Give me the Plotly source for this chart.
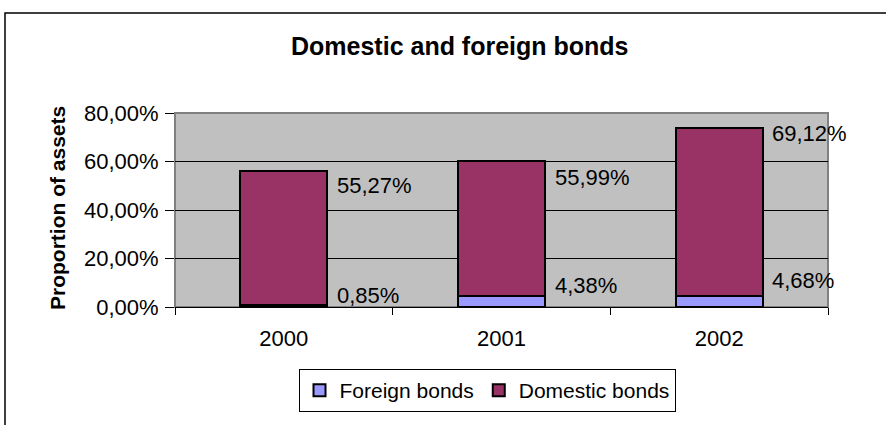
import plotly.graph_objects as go

# Bond holdings as a share of total assets
years = ["2000", "2001", "2002"]
foreign_bonds = [0.0085, 0.0438, 0.0468]
domestic_bonds = [0.5527, 0.5599, 0.6912]

# Vertical placement of the value labels (axis units)
foreign_label_y = [0.047, 0.089, 0.111]
domestic_label_y = [0.499, 0.532, 0.715]

y_ticks = [0, 0.2, 0.4, 0.6, 0.8]

FONT = "Liberation Sans, Arial, sans-serif"


def pct(v):
    return f"{v * 100:.2f}%".replace(".", ",")


fig = go.Figure()
fig.add_trace(go.Bar(
    name="Foreign bonds", x=years, y=foreign_bonds, width=0.4,
    marker=dict(color="#9999FF", line=dict(color="black", width=2)),
))
fig.add_trace(go.Bar(
    name="Domestic bonds", x=years, y=domestic_bonds, width=0.4,
    marker=dict(color="#993366", line=dict(color="black", width=2)),
))

annotations = []
for i, (v, ly) in enumerate(zip(foreign_bonds, foreign_label_y)):
    annotations.append(dict(x=i + 0.235, y=ly, xref="x", yref="y", text=pct(v),
                            showarrow=False, xanchor="left", yanchor="middle",
                            font=dict(size=22, color="black", family=FONT)))
for i, (v, ly) in enumerate(zip(domestic_bonds, domestic_label_y)):
    annotations.append(dict(x=i + 0.235, y=ly, xref="x", yref="y", text=pct(v),
                            showarrow=False, xanchor="left", yanchor="middle",
                            font=dict(size=22, color="black", family=FONT)))

# Chart title and y-axis title
annotations.append(dict(x=(460 - 175) / 653, y=(307 - 46) / 194, xref="paper", yref="paper",
                        text="<b>Domestic and foreign bonds</b>", showarrow=False,
                        xanchor="center", yanchor="middle",
                        font=dict(size=25, color="black", family=FONT)))
annotations.append(dict(x=(57 - 175) / 653, y=(307 - 208) / 194, xref="paper", yref="paper",
                        text="<b>Proportion of assets</b>", showarrow=False, textangle=-90,
                        xanchor="center", yanchor="middle",
                        font=dict(size=21, color="black", family=FONT)))

shapes = [
    # outer chart frame
    dict(type="rect", xref="paper", yref="paper",
         x0=(5 - 175) / 653, x1=(900 - 175) / 653,
         y0=(307 - 440) / 194, y1=(307 - 13) / 194,
         line=dict(color="black", width=1.5), fillcolor="rgba(0,0,0,0)", layer="below"),
    # plot area frame
    dict(type="rect", xref="paper", yref="paper", x0=0, x1=1, y0=0, y1=1,
         line=dict(color="#808080", width=2), fillcolor="rgba(0,0,0,0)", layer="below"),
]

fig.update_layout(
    barmode="stack",
    width=886, height=425,
    margin=dict(l=175, r=58, t=113, b=118),
    paper_bgcolor="white",
    plot_bgcolor="#C0C0C0",
    separators=",.",
    font=dict(family=FONT, size=22, color="black"),
    showlegend=True,
    legend=dict(orientation="h", x=(487 - 175) / 653, xanchor="center",
                y=(307 - 369) / 194, yanchor="top",
                bordercolor="black", borderwidth=1, bgcolor="white",
                font=dict(size=21, family=FONT), traceorder="normal",
                itemwidth=30),
    annotations=annotations,
    shapes=shapes,
)
fig.update_xaxes(
    type="category", range=[-0.5, 2.5], autorange=False,
    tickson="boundaries", ticks="outside", ticklen=7,
    tickcolor="black", showline=True, linecolor="black", linewidth=1,
    showgrid=False, tickfont=dict(size=22), ticklabelstandoff=12,
)
fig.update_yaxes(
    range=[0, 0.8], autorange=False, tickvals=y_ticks, tickformat=".2%", ticks="outside",
    ticklen=9, tickcolor="black", showline=False,
    showgrid=True, gridcolor="black", gridwidth=1, zeroline=False,
    tickfont=dict(size=22), ticklabelstandoff=2,
)

fig.write_html("out.html")
